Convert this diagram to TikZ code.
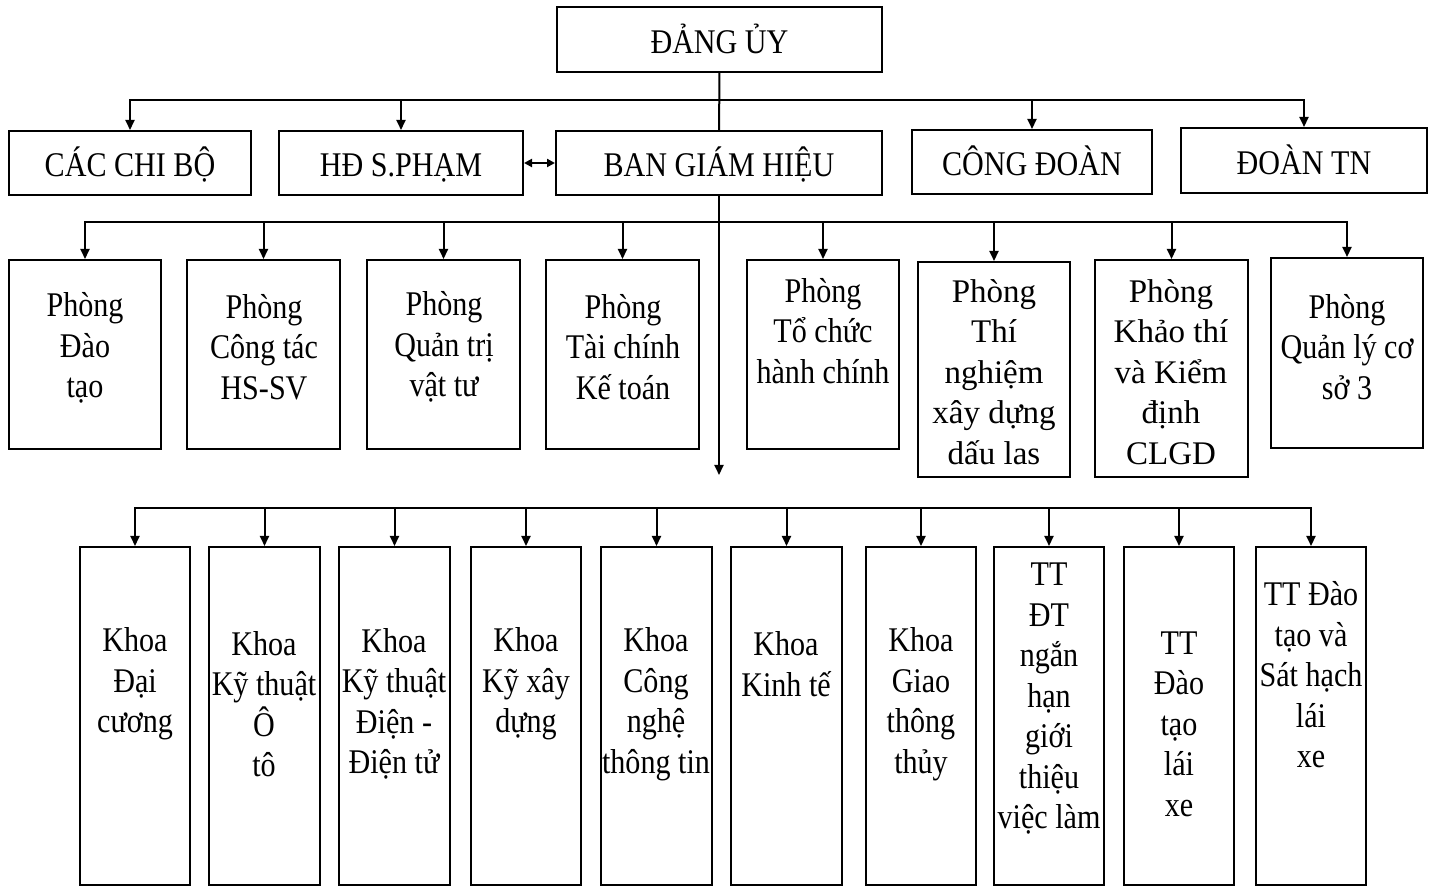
\documentclass[tikz,border=0pt]{standalone}
\usepackage{fontspec}
\setmainfont{Liberation Serif}[FakeStretch=0.87]
\newfontfamily\widefont{Liberation Serif}
\usetikzlibrary{arrows.meta, fit, positioning}

\begin{document}
\begin{tikzpicture}[x=0.5pt, y=-0.5pt]
  \tikzset{
    box/.style={draw, line width=1pt, inner sep=0pt},
    txt/.style={align=center, inner sep=0pt, font=\fontsize{17.3}{20.25}\selectfont},
    captxt/.style={txt, text height=17pt, text depth=3.2pt},
    wtxt/.style={align=center, inner sep=0pt, font=\widefont\fontsize{16.5}{20.25}\selectfont},
    link/.style={line width=1pt},
    arr/.style={link, -{Triangle[length=5pt,width=4.5pt]}},
    dblarr/.style={link, {Triangle[length=4pt,width=4pt]}-{Triangle[length=4pt,width=4pt]}}
  }
\useasboundingbox (0,0) rectangle (1434,886);

% top
\node[box, fit={(557,7) (882,72)}] (dangUy) {};
\node[captxt] (tDangUy) at (dangUy.center) {ĐẢNG ỦY};

% second row
\node[box, fit={(9,131) (251,195)}] (chiBo) {};
\node[captxt] (tChiBo) at (chiBo.center) {CÁC CHI BỘ};
\node[box, fit={(279,131) (523,195)}] (hdsp) {};
\node[captxt] (tHdsp) at (hdsp.center) {HĐ S.PHẠM};
\node[box, fit={(556,131) (882,195)}] (bgh) {};
\node[captxt] (tBgh) at (bgh.center) {BAN GIÁM HIỆU};
\node[box, fit={(912,130) (1152,194)}] (congDoan) {};
\node[captxt] (tCongDoan) at (congDoan.center) {CÔNG ĐOÀN};
\node[box, fit={(1181,128) (1427,193)}] (doanTN) {};
\node[captxt] (tDoanTN) at (doanTN.center) {ĐOÀN TN};

% phong
\node[box, fit={(9,260) (161,449)}] (pDaoTao) {};
\node[txt] (tDaoTao) at (85,348) {Phòng\\Đào\\tạo};
\node[box, fit={(187,260) (340,449)}] (pCongTac) {};
\node[txt] (tCongTac) at (264,347) {Phòng\\Công tác\\HS-SV};
\node[box, fit={(367,260) (520,449)}] (pQuanTri) {};
\node[txt] (tQuanTri) at (444,347) {Phòng\\Quản trị\\vật tư};
\node[box, fit={(546,260) (699,449)}] (pTaiChinh) {};
\node[txt] (tTaiChinh) at (623,347) {Phòng\\Tài chính\\Kế toán};
\node[box, fit={(747,260) (899,449)}] (pToChuc) {};
\node[txt] (tToChuc) at (823,331) {Phòng\\Tổ chức\\hành chính};
\node[box, fit={(918,262) (1070,477)}] (pThiNghiem) {};
\node[wtxt] (tThiNghiem) at (994,372) {Phòng\\Thí\\nghiệm\\xây dựng\\dấu las};
\node[box, fit={(1095,260) (1248,477)}] (pKhaoThi) {};
\node[wtxt] (tKhaoThi) at (1171,372) {Phòng\\Khảo thí\\và Kiểm\\định\\CLGD};
\node[box, fit={(1271,258) (1423,448)}] (pQuanLy) {};
\node[txt] (tQuanLy) at (1347,347) {Phòng\\Quản lý cơ\\sở 3};

% khoa, trung tam
\node[box, fit={(80,547) (190,885)}] (kDaiCuong) {};
\node[txt] (tDaiCuong) at (135,684) {Khoa\\Đại\\cương};
\node[box, fit={(209,547) (320,885)}] (kOto) {};
\node[txt] (tOto) at (264,704) {Khoa\\Kỹ thuật\\Ô\\tô};
\node[box, fit={(339,547) (450,885)}] (kDien) {};
\node[txt] (tDien) at (394,704) {Khoa\\Kỹ thuật\\Điện -\\Điện tử};
\node[box, fit={(471,547) (581,885)}] (kXayDung) {};
\node[txt] (tXayDung) at (526,684) {Khoa\\Kỹ xây\\dựng};
\node[box, fit={(601,547) (712,885)}] (kCntt) {};
\node[txt] (tCntt) at (656,704) {Khoa\\Công\\nghệ\\thông tin};
\node[box, fit={(731,547) (842,885)}] (kKinhTe) {};
\node[txt] (tKinhTe) at (786,664) {Khoa\\Kinh tế};
\node[box, fit={(866,547) (976,885)}] (kGiaoThong) {};
\node[txt] (tGiaoThong) at (921,704) {Khoa\\Giao\\thông\\thủy};
\node[box, fit={(994,547) (1104,885)}] (ttViecLam) {};
\node[txt] (tViecLam) at (1049,699) {TT\\ĐT\\ngắn\\hạn\\giới\\thiệu\\việc làm};
\node[box, fit={(1124,547) (1234,885)}] (ttLaiXe) {};
\node[txt] (tLaiXe) at (1179,724) {TT\\Đào\\tạo\\lái\\xe};
\node[box, fit={(1256,547) (1366,885)}] (ttSatHach) {};
\node[txt] (tSatHach) at (1311,675) {TT Đào\\tạo và\\Sát hạch\\lái\\xe};

% links
\coordinate (j1) at (719.5,100);
\coordinate (j2) at (719,222);
\coordinate (j3) at (719,508);
\coordinate (khoaTip) at (719,475);

\draw[link] (dangUy) -- (bgh);
\draw[arr] (j1) -| (chiBo);
\draw[arr] (j1) -| (hdsp);
\draw[arr] (j1) -| (congDoan);
\draw[arr] (j1) -| (doanTN);
\draw[dblarr] (hdsp.east) -- (bgh.west);

\draw[arr] (bgh.south) -- (khoaTip);
\draw[arr] (j2) -| (pDaoTao);
\draw[arr] (j2) -| (pCongTac);
\draw[arr] (j2) -| (pQuanTri);
\draw[arr] (j2) -| (pTaiChinh);
\draw[arr] (j2) -| (pToChuc);
\draw[arr] (j2) -| (pThiNghiem);
\draw[arr] (j2) -| (pKhaoThi);
\draw[arr] (j2) -| (pQuanLy);

\draw[arr] (j3) -| (kDaiCuong);
\draw[arr] (j3) -| (kOto);
\draw[arr] (j3) -| (kDien);
\draw[arr] (j3) -| (kXayDung);
\draw[arr] (j3) -| (kCntt);
\draw[arr] (j3) -| (kKinhTe);
\draw[arr] (j3) -| (kGiaoThong);
\draw[arr] (j3) -| (ttViecLam);
\draw[arr] (j3) -| (ttLaiXe);
\draw[arr] (j3) -| (ttSatHach);

\end{tikzpicture}
\end{document}
